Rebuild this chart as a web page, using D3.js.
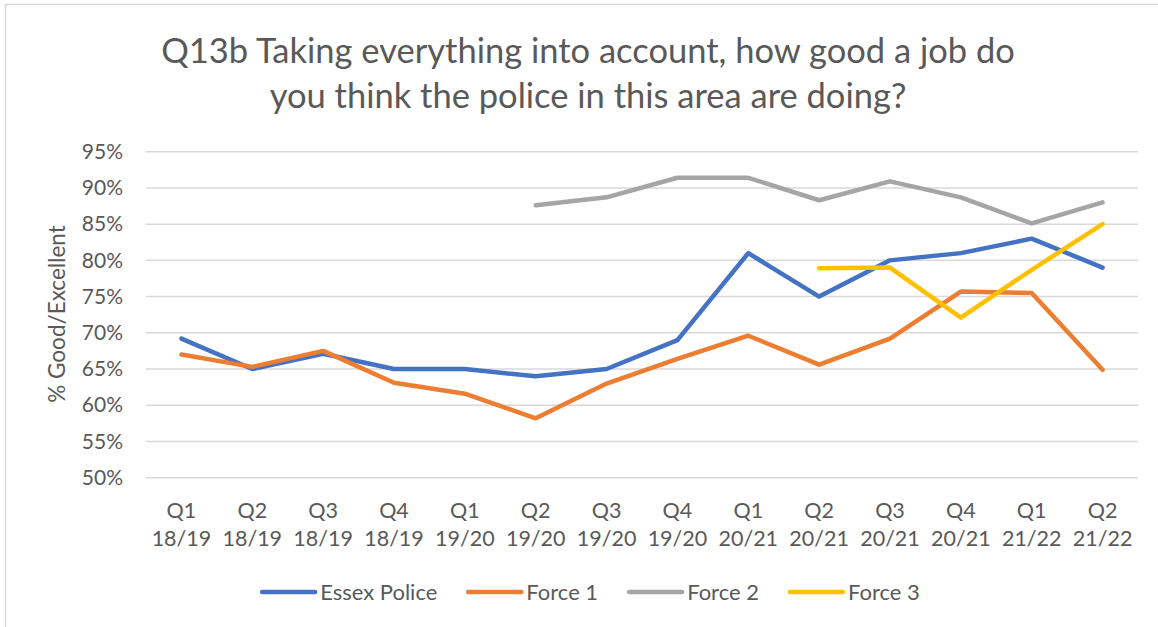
<!DOCTYPE html>
<html>
<head>
<meta charset="utf-8">
<script src="https://cdn.jsdelivr.net/npm/d3@7"></script>
<style>
  body { margin: 0; background: #fff; }
  text { font-family: Lato, "Open Sans", sans-serif; fill: #595959; }
</style>
</head>
<body>
<svg id="chart" width="1158" height="627"></svg>
<script>
// quarters on the x axis (two-line labels)
const quarters = ["Q1|18/19", "Q2|18/19", "Q3|18/19", "Q4|18/19", "Q1|19/20", "Q2|19/20", "Q3|19/20",
  "Q4|19/20", "Q1|20/21", "Q2|20/21", "Q3|20/21", "Q4|20/21", "Q1|21/22", "Q2|21/22"];

// % good / excellent, null where the force has no figure
const essex = [69.2, 65.0, 67.1, 65.0, 65.0, 64.0, 65.0, 69.0, 81.0, 75.0, 80.0, 81.0, 83.0, 79.0];
const force1 = [67.0, 65.3, 67.5, 63.1, 61.6, 58.2, 63.0, 66.4, 69.6, 65.6, 69.2, 75.7, 75.5, 64.9];
const force2 = [null, null, null, null, null, 87.6, 88.7, 91.4, 91.4, 88.3, 90.9, 88.7, 85.1, 88.0];
const force3 = [null, null, null, null, null, null, null, null, null, 78.9, 79.0, 72.1, 78.7, 85.0];

const seriesNames = ["Essex Police", "Force 1", "Force 2", "Force 3"];
const yTicks = [50, 55, 60, 65, 70, 75, 80, 85, 90, 95];

const series = [
  { name: seriesNames[0], values: essex, color: "#4472c4" },
  { name: seriesNames[1], values: force1, color: "#ed7d31" },
  { name: seriesNames[2], values: force2, color: "#a5a5a5" },
  { name: seriesNames[3], values: force3, color: "#ffc000" }
];

const svg = d3.select("#chart");
const font = "Lato, 'Open Sans', sans-serif";

// chart border
svg.append("rect")
  .attr("x", 5.5).attr("y", 4.5)
  .attr("width", 1300).attr("height", 800)
  .attr("fill", "#fff")
  .attr("stroke", "#d9d9d9")
  .attr("stroke-width", 1.5);

const plotLeft = 146, plotRight = 1138, plotTop = 151.7, plotBottom = 477.7;

const x = d3.scaleBand().domain(quarters).range([plotLeft, plotRight]);
const y = d3.scaleLinear().domain([50, 95]).range([plotBottom, plotTop]);

// title
const title = svg.append("text")
  .attr("text-anchor", "middle")
  .attr("font-size", 34.5);
title.append("tspan").attr("x", 588).attr("y", 63)
  .text("Q13b Taking everything into account, how good a job do");
title.append("tspan").attr("x", 588).attr("y", 108)
  .text("you think the police in this area are doing?");

// gridlines
svg.append("g")
  .selectAll("line")
  .data(yTicks)
  .enter()
  .append("line")
  .attr("x1", plotLeft).attr("x2", plotRight)
  .attr("y1", d => y(d)).attr("y2", d => y(d))
  .attr("stroke", "#d9d9d9")
  .attr("stroke-width", 1.5);

// y axis
const yAxis = svg.append("g")
  .attr("transform", `translate(${plotLeft - 23},0)`)
  .call(d3.axisLeft(y).tickValues(yTicks).tickFormat(d => d + "%").tickSize(0).tickPadding(0));
yAxis.select(".domain").remove();
yAxis.selectAll("text")
  .attr("font-size", 21)
  .attr("fill", "#595959")
  .attr("font-family", font);

svg.append("text")
  .attr("transform", "translate(65,314) rotate(-90)")
  .attr("text-anchor", "middle")
  .attr("font-size", 22.5)
  .text("% Good/Excellent");

// x axis
const xAxis = svg.append("g")
  .attr("transform", `translate(0,${plotBottom})`)
  .call(d3.axisBottom(x).tickSize(0).tickFormat(""));
xAxis.select(".domain").remove();
xAxis.selectAll(".tick text").remove();
xAxis.selectAll(".tick")
  .append("text")
  .attr("text-anchor", "middle")
  .attr("font-size", 21.5)
  .attr("fill", "#595959")
  .attr("font-family", font)
  .each(function(d) {
    const parts = d.split("|");
    const t = d3.select(this);
    t.append("tspan").attr("x", 0).attr("y", 40).text(parts[0]);
    t.append("tspan").attr("x", 0).attr("y", 68).text(parts[1]);
  });

// lines
const line = d3.line()
  .defined(d => d != null)
  .x((d, i) => x(quarters[i]) + x.bandwidth() / 2)
  .y(d => y(d));

svg.append("g")
  .selectAll("path")
  .data(series)
  .enter()
  .append("path")
  .attr("d", d => line(d.values))
  .attr("fill", "none")
  .attr("stroke", d => d.color)
  .attr("stroke-width", 4.5)
  .attr("stroke-linejoin", "round")
  .attr("stroke-linecap", "round");

// legend
const legend = svg.append("g");
let lx = 0;
series.forEach(s => {
  const item = legend.append("g").attr("transform", `translate(${lx},0)`);
  item.append("line")
    .attr("x1", 2).attr("x2", 55)
    .attr("y1", 0).attr("y2", 0)
    .attr("stroke", s.color)
    .attr("stroke-width", 4.5)
    .attr("stroke-linecap", "round");
  const t = item.append("text")
    .attr("x", 60).attr("y", 7.5)
    .attr("font-size", 22)
    .text(s.name);
  lx += 60 + t.node().getComputedTextLength() + 29;
});
const legendWidth = lx - 29;
legend.attr("transform", `translate(${590 - legendWidth / 2},592)`);
</script>
</body>
</html>
